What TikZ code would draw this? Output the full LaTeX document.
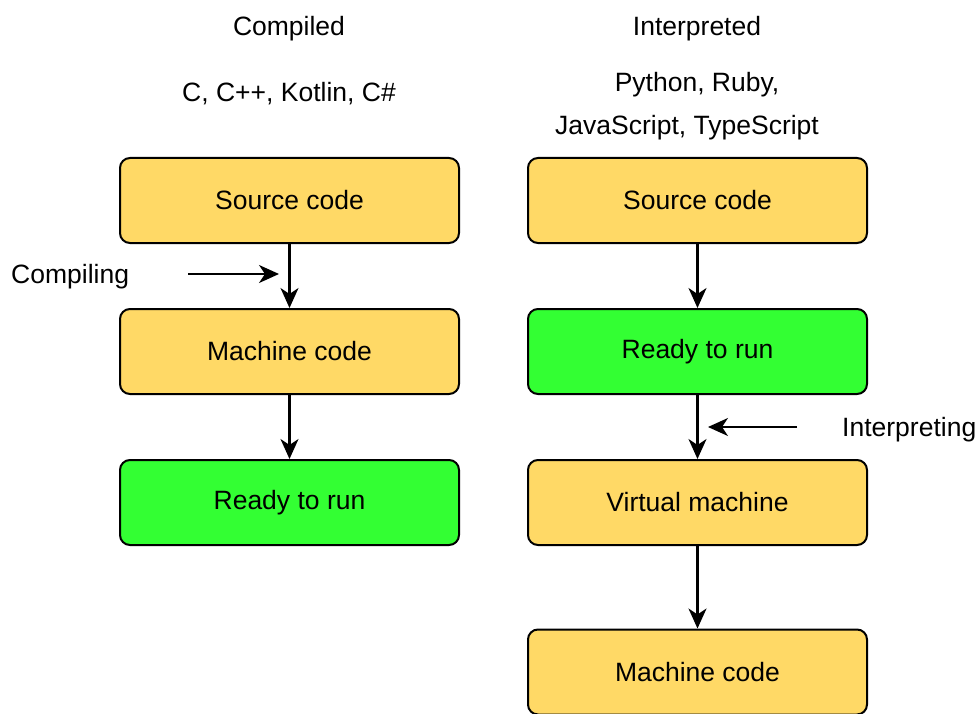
\documentclass[tikz,border=0pt]{standalone}
\usepackage{fontspec}
\setmainfont{Liberation Sans}
\usetikzlibrary{arrows.meta}
\definecolor{boxyellow}{HTML}{FFD966}
\definecolor{boxgreen}{HTML}{33FF33}
\begin{document}
\begin{tikzpicture}[x=1pt,y=-1pt,
  every node/.style={font=\fontsize{26.5}{31}\selectfont},
  stage/.style={draw=black, line width=2pt, rounded corners=10pt,
    minimum width=339pt, minimum height=85pt, inner sep=0pt},
  pending/.style={stage, fill=boxyellow},
  runnable/.style={stage, fill=boxgreen},
  flow/.style={line width=2.2pt, -{Stealth[length=20pt,width=18pt,inset=6pt]}},
  caption/.style={inner sep=0pt}]
\useasboundingbox (0,0) rectangle (977,714);

% column headings
\node[caption] (hcomp) at (289,28.5) {Compiled};
\node[caption] (lcomp) at (289,94) {C, C++, Kotlin, C\#};
\node[caption] (hint) at (697,28.5) {Interpreted};
\node[caption] (lint1) at (697,84.5) {Python, Ruby,};
\node[caption] (lint2) at (687,127.5) {JavaScript, TypeScript};

% compiled pipeline
\node[pending]  (csrc) at (289.5,200.5) {Source code};
\node[pending]  (cmac) at (289.5,351.5) {Machine code};
\node[runnable] (crun) at (289.5,502.5) {Ready to run};
\draw[flow] (csrc) -- (cmac);
\draw[flow] (cmac) -- (crun);

% interpreted pipeline
\node[pending]  (isrc) at (697.5,200.5) {Source code};
\node[runnable] (irun) at (697.5,351.5) {Ready to run};
\node[pending]  (ivm)  at (697.5,502.5) {Virtual machine};
\node[pending]  (imac) at (697.5,672) {Machine code};
\draw[flow] (isrc) -- (irun);
\draw[flow] (irun) -- (ivm);
\draw[flow] (ivm) -- (imac);

% side labels with pointer arrows
\node[caption, anchor=west] (compiling) at (11,276.5) {Compiling};
\coordinate (cfrom) at (188,274);
\coordinate (cto) at (279,274);
\draw[flow] (cfrom) -- (cto);

\node[caption, anchor=west] (interp) at (842,429.5) {Interpreting};
\coordinate (ifrom) at (797,427);
\coordinate (ito) at (708,427);
\draw[flow] (ifrom) -- (ito);
\end{tikzpicture}
\end{document}
